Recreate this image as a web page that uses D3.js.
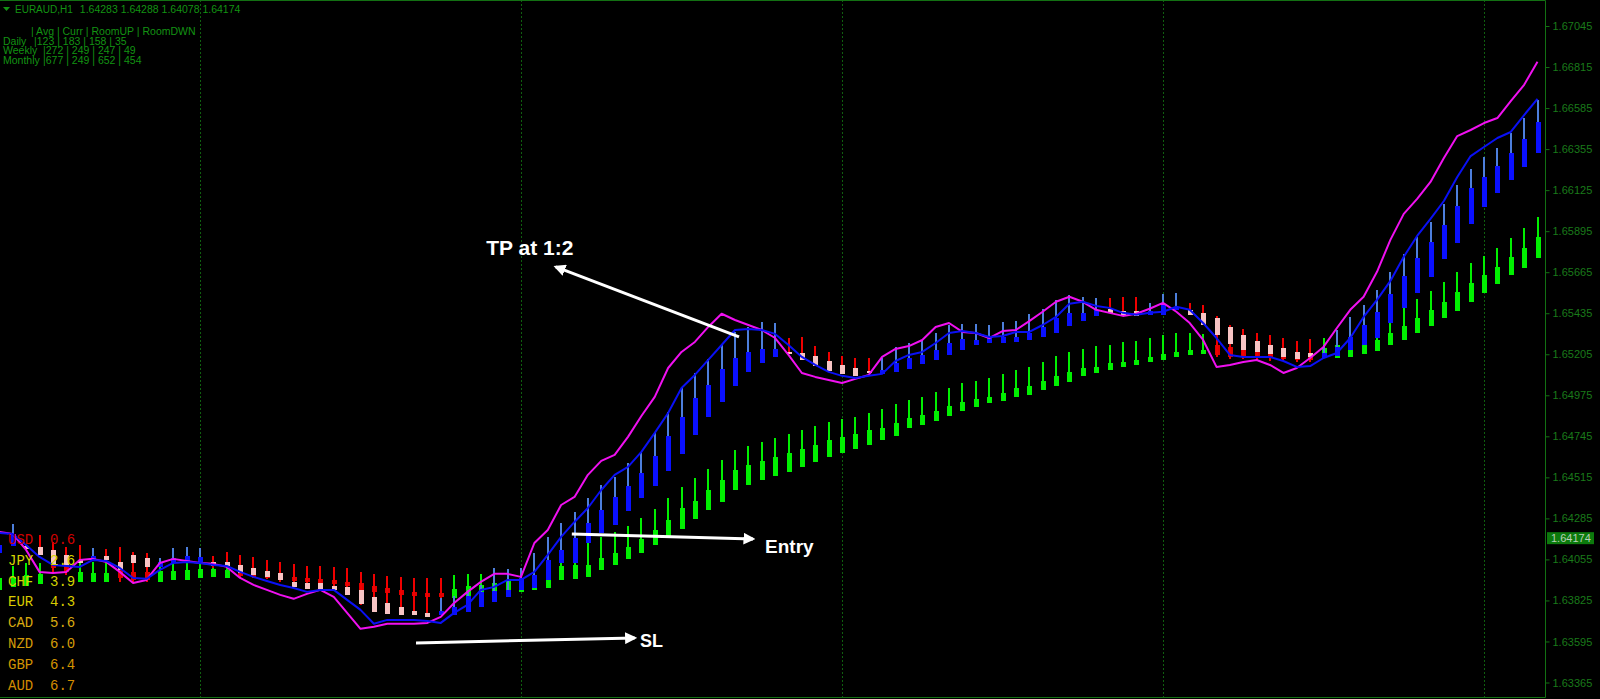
<!DOCTYPE html>
<html><head><meta charset="utf-8">
<script src="https://cdn.jsdelivr.net/npm/d3@7/dist/d3.min.js"></script>
<style>
html,body{margin:0;padding:0;background:#000;overflow:hidden;}
svg{display:block;}
text{white-space:pre;}
</style></head>
<body>
<svg id="chart" width="1600" height="699"></svg>
<script>
// ---------------- DATA ----------------
// H1 bars, index -1 .. 114 (bar -1 partially off-screen)
const bars = d3.range(-1, 115);
const dayStartBars = [14, 38, 62, 86, 110];

const lineMagenta = [
1.64209,1.64198,1.64108,1.63985,1.63979,1.63985,1.64052,1.64058,1.64041,1.63985,
1.63923,1.63940,1.64035,1.64058,1.64046,1.64035,1.64030,1.64013,1.63951,1.63912,
1.63884,1.63856,1.63834,1.63862,1.63884,1.63845,1.63755,1.63666,1.63677,1.63694,
1.63694,1.63694,1.63699,1.63733,1.63811,1.63873,1.63929,1.63974,1.63974,1.63957,
1.64147,1.64220,1.64360,1.64405,1.64529,1.64607,1.64641,1.64742,1.64859,1.64966,
1.65128,1.65218,1.65274,1.65358,1.65432,1.65397,1.65369,1.65341,1.65296,1.65201,
1.65100,1.65078,1.65061,1.65044,1.65067,1.65089,1.65190,1.65235,1.65251,1.65285,
1.65358,1.65380,1.65330,1.65324,1.65296,1.65335,1.65341,1.65391,1.65443,1.65499,
1.65527,1.65499,1.65454,1.65437,1.65420,1.65432,1.65460,1.65493,1.65443,1.65380,
1.65285,1.65134,1.65145,1.65162,1.65173,1.65145,1.65100,1.65128,1.65184,1.65246,
1.65352,1.65454,1.65527,1.65667,1.65846,1.65992,1.66076,1.66171,1.66305,1.66428,
1.66462,1.66501,1.66529,1.66624,1.66715,1.66844];

const lineBlue = [
1.64203,1.64198,1.64136,1.64069,1.64024,1.64018,1.64013,1.64052,1.64046,1.64007,
1.63951,1.63946,1.63996,1.64035,1.64041,1.64035,1.64024,1.64018,1.63985,1.63957,
1.63934,1.63912,1.63895,1.63873,1.63884,1.63884,1.63828,1.63772,1.63694,1.63716,
1.63716,1.63716,1.63710,1.63699,1.63755,1.63800,1.63884,1.63901,1.63940,1.63940,
1.63985,1.64080,1.64181,1.64265,1.64343,1.64444,1.64529,1.64574,1.64658,1.64764,
1.64876,1.65016,1.65089,1.65173,1.65257,1.65341,1.65347,1.65341,1.65319,1.65257,
1.65190,1.65145,1.65106,1.65084,1.65072,1.65084,1.65095,1.65167,1.65201,1.65218,
1.65268,1.65324,1.65335,1.65324,1.65302,1.65307,1.65330,1.65330,1.65369,1.65414,
1.65488,1.65499,1.65476,1.65465,1.65437,1.65426,1.65437,1.65443,1.65471,1.65454,
1.65380,1.65296,1.65201,1.65190,1.65190,1.65190,1.65167,1.65134,1.65139,1.65184,
1.65212,1.65296,1.65414,1.65510,1.65616,1.65751,1.65868,1.65964,1.66064,1.66199,
1.66316,1.66367,1.66417,1.66451,1.66546,1.66637];

// Heiken-Ashi candles (blue up / pink down)
const haHigh = [
1.64147,1.64254,1.64136,1.64192,1.64153,1.64125,1.64136,1.64119,1.64114,1.64125,
1.64097,1.64091,1.64063,1.64119,1.64125,1.64119,1.64074,1.64097,1.64080,1.64069,
1.64052,1.64041,1.64030,1.64018,1.64018,1.64013,1.64007,1.63985,1.63974,1.63962,
1.63957,1.63951,1.63951,1.63839,1.63850,1.63884,1.63912,1.64007,1.64002,1.64007,
1.64091,1.64181,1.64259,1.64321,1.64399,1.64472,1.64518,1.64596,1.64658,1.64764,
1.64882,1.65016,1.65100,1.65179,1.65257,1.65330,1.65358,1.65386,1.65380,1.65296,
1.65302,1.65251,1.65218,1.65195,1.65184,1.65184,1.65184,1.65246,1.65268,1.65285,
1.65324,1.65369,1.65375,1.65375,1.65369,1.65386,1.65392,1.65432,1.65460,1.65510,
1.65538,1.65527,1.65521,1.65521,1.65527,1.65527,1.65493,1.65544,1.65549,1.65493,
1.65482,1.65420,1.65369,1.65347,1.65324,1.65313,1.65296,1.65279,1.65291,1.65257,
1.65341,1.65415,1.65482,1.65566,1.65667,1.65768,1.65863,1.65947,1.66048,1.66154,
1.66244,1.66311,1.66361,1.66445,1.66529,1.66630];
const haOpen = [
1.64091,1.64130,1.64130,1.64125,1.64108,1.64080,1.64052,1.64052,1.64074,1.64041,
1.64080,1.64063,1.64013,1.64035,1.64041,1.64041,1.64041,1.64041,1.64024,1.64007,
1.63990,1.63979,1.63929,1.63923,1.63923,1.63906,1.63901,1.63884,1.63845,1.63811,
1.63789,1.63766,1.63755,1.63744,1.63744,1.63761,1.63789,1.63817,1.63845,1.63884,
1.63895,1.63940,1.64035,1.64035,1.64147,1.64203,1.64248,1.64327,1.64399,1.64467,
1.64551,1.64647,1.64753,1.64854,1.64938,1.65027,1.65106,1.65156,1.65190,1.65218,
1.65212,1.65195,1.65167,1.65145,1.65128,1.65111,1.65095,1.65106,1.65123,1.65151,
1.65173,1.65201,1.65229,1.65257,1.65268,1.65268,1.65274,1.65285,1.65302,1.65324,
1.65364,1.65392,1.65420,1.65460,1.65448,1.65448,1.65426,1.65426,1.65454,1.65454,
1.65437,1.65409,1.65358,1.65313,1.65279,1.65257,1.65240,1.65218,1.65212,1.65184,
1.65195,1.65229,1.65257,1.65296,1.65380,1.65465,1.65549,1.65639,1.65740,1.65829,
1.65936,1.66031,1.66109,1.66182,1.66255,1.66333];
const haClose = [
1.64136,1.64198,1.64114,1.64080,1.64024,1.64024,1.64035,1.64074,1.64052,1.63996,
1.64035,1.64013,1.64041,1.64063,1.64074,1.64069,1.64018,1.64018,1.63979,1.63968,
1.63957,1.63940,1.63901,1.63890,1.63890,1.63884,1.63856,1.63806,1.63761,1.63750,
1.63744,1.63744,1.63733,1.63766,1.63789,1.63850,1.63873,1.63879,1.63884,1.63951,
1.63968,1.64052,1.64108,1.64175,1.64259,1.64332,1.64405,1.64467,1.64540,1.64635,
1.64748,1.64854,1.64960,1.65033,1.65123,1.65184,1.65218,1.65235,1.65235,1.65207,
1.65173,1.65139,1.65111,1.65095,1.65084,1.65100,1.65117,1.65156,1.65184,1.65201,
1.65229,1.65268,1.65291,1.65285,1.65302,1.65302,1.65302,1.65324,1.65358,1.65409,
1.65437,1.65437,1.65454,1.65437,1.65426,1.65420,1.65448,1.65482,1.65471,1.65426,
1.65369,1.65313,1.65263,1.65229,1.65218,1.65207,1.65190,1.65179,1.65190,1.65212,
1.65246,1.65302,1.65369,1.65443,1.65544,1.65644,1.65745,1.65835,1.65930,1.66036,
1.66137,1.66199,1.66260,1.66333,1.66412,1.66507];
const haLow = [
1.64091,1.64130,1.64114,1.64080,1.64024,1.64024,1.64035,1.64052,1.64052,1.63996,
1.64035,1.64013,1.64013,1.64035,1.64041,1.64041,1.64007,1.64007,1.63957,1.63957,
1.63951,1.63929,1.63901,1.63890,1.63890,1.63884,1.63856,1.63800,1.63761,1.63750,
1.63744,1.63744,1.63733,1.63744,1.63744,1.63761,1.63789,1.63817,1.63845,1.63884,
1.63895,1.63940,1.64035,1.64035,1.64147,1.64203,1.64248,1.64327,1.64399,1.64467,
1.64551,1.64647,1.64753,1.64854,1.64938,1.65027,1.65106,1.65156,1.65190,1.65207,
1.65173,1.65139,1.65111,1.65095,1.65084,1.65100,1.65095,1.65106,1.65123,1.65151,
1.65173,1.65201,1.65229,1.65257,1.65268,1.65268,1.65274,1.65285,1.65302,1.65324,
1.65364,1.65392,1.65420,1.65437,1.65426,1.65420,1.65426,1.65426,1.65454,1.65426,
1.65369,1.65201,1.65190,1.65190,1.65190,1.65190,1.65179,1.65167,1.65173,1.65184,
1.65195,1.65229,1.65257,1.65296,1.65380,1.65465,1.65549,1.65639,1.65740,1.65829,
1.65936,1.66031,1.66109,1.66182,1.66255,1.66333];

// Smoothed signal candles (green up / red down)
const sigHigh = [
1.64013,1.64018,1.64035,1.64035,1.64119,1.64108,1.64052,1.64041,1.64035,1.64119,
1.64091,1.64091,1.64052,1.64052,1.64052,1.64063,1.64058,1.64058,1.64080,1.64069,
1.64052,1.64041,1.64030,1.64018,1.64018,1.64013,1.64007,1.63985,1.63974,1.63962,
1.63957,1.63951,1.63951,1.63951,1.63968,1.63974,1.63974,1.63979,1.64002,1.63985,
1.64024,1.64052,1.64119,1.64136,1.64147,1.64181,1.64209,1.64242,1.64287,1.64338,
1.64399,1.64461,1.64512,1.64563,1.64613,1.64669,1.64691,1.64714,1.64736,1.64759,
1.64781,1.64803,1.64826,1.64843,1.64854,1.64876,1.64899,1.64927,1.64949,1.64966,
1.64994,1.65016,1.65044,1.65055,1.65072,1.65095,1.65117,1.65134,1.65162,1.65195,
1.65218,1.65235,1.65251,1.65257,1.65274,1.65279,1.65296,1.65313,1.65324,1.65324,
1.65319,1.65313,1.65302,1.65296,1.65285,1.65285,1.65274,1.65268,1.65268,1.65296,
1.65313,1.65341,1.65369,1.65392,1.65437,1.65476,1.65516,1.65560,1.65611,1.65667,
1.65717,1.65756,1.65801,1.65857,1.65913,1.65975];
const sigOpen = [
1.63884,1.63901,1.63906,1.63918,1.64041,1.64024,1.63929,1.63929,1.63929,1.63996,
1.63985,1.63985,1.63929,1.63940,1.63940,1.63951,1.63957,1.63951,1.63985,1.63974,
1.63968,1.63962,1.63957,1.63951,1.63946,1.63940,1.63929,1.63923,1.63906,1.63895,
1.63884,1.63873,1.63867,1.63867,1.63839,1.63850,1.63862,1.63873,1.63884,1.63873,
1.63884,1.63895,1.63940,1.63946,1.63957,1.63996,1.64024,1.64058,1.64091,1.64136,
1.64186,1.64225,1.64281,1.64332,1.64377,1.64444,1.64472,1.64500,1.64523,1.64546,
1.64574,1.64602,1.64630,1.64652,1.64675,1.64697,1.64725,1.64748,1.64792,1.64809,
1.64831,1.64859,1.64887,1.64910,1.64932,1.64943,1.64966,1.64977,1.65005,1.65027,
1.65050,1.65084,1.65100,1.65117,1.65134,1.65145,1.65162,1.65173,1.65190,1.65201,
1.65207,1.65257,1.65246,1.65240,1.65229,1.65229,1.65218,1.65218,1.65212,1.65184,
1.65184,1.65190,1.65207,1.65223,1.65257,1.65285,1.65324,1.65364,1.65409,1.65448,
1.65499,1.65549,1.65600,1.65650,1.65689,1.65745];
const sigClose = [
1.63951,1.63957,1.63968,1.63974,1.64007,1.63985,1.63985,1.63979,1.63979,1.63951,
1.63940,1.63940,1.63990,1.63990,1.63996,1.64002,1.64002,1.63996,1.63962,1.63957,
1.63951,1.63940,1.63934,1.63929,1.63923,1.63918,1.63906,1.63884,1.63873,1.63867,
1.63856,1.63850,1.63845,1.63845,1.63890,1.63906,1.63912,1.63923,1.63940,1.63929,
1.63951,1.63968,1.64018,1.64024,1.64024,1.64063,1.64091,1.64125,1.64170,1.64220,
1.64276,1.64343,1.64382,1.64444,1.64500,1.64557,1.64585,1.64607,1.64630,1.64652,
1.64675,1.64697,1.64725,1.64742,1.64759,1.64781,1.64792,1.64820,1.64848,1.64865,
1.64887,1.64915,1.64938,1.64955,1.64966,1.64988,1.65016,1.65027,1.65055,1.65084,
1.65106,1.65128,1.65134,1.65156,1.65162,1.65173,1.65190,1.65207,1.65218,1.65229,
1.65229,1.65201,1.65190,1.65190,1.65184,1.65184,1.65179,1.65173,1.65173,1.65240,
1.65257,1.65257,1.65279,1.65285,1.65324,1.65364,1.65409,1.65454,1.65499,1.65555,
1.65605,1.65650,1.65695,1.65751,1.65801,1.65863];
const sigLow = [
1.63884,1.63901,1.63906,1.63918,1.63985,1.63968,1.63929,1.63929,1.63929,1.63929,
1.63929,1.63929,1.63929,1.63940,1.63940,1.63951,1.63957,1.63951,1.63957,1.63951,
1.63946,1.63929,1.63923,1.63918,1.63912,1.63906,1.63895,1.63873,1.63862,1.63850,
1.63845,1.63839,1.63834,1.63828,1.63839,1.63850,1.63862,1.63873,1.63884,1.63873,
1.63884,1.63895,1.63940,1.63946,1.63957,1.63996,1.64024,1.64058,1.64091,1.64136,
1.64186,1.64225,1.64281,1.64332,1.64377,1.64444,1.64472,1.64500,1.64523,1.64546,
1.64574,1.64602,1.64630,1.64652,1.64675,1.64697,1.64725,1.64748,1.64792,1.64809,
1.64831,1.64859,1.64887,1.64910,1.64932,1.64943,1.64966,1.64977,1.65005,1.65027,
1.65050,1.65084,1.65100,1.65117,1.65134,1.65145,1.65162,1.65173,1.65190,1.65201,
1.65207,1.65190,1.65179,1.65179,1.65173,1.65167,1.65167,1.65162,1.65162,1.65184,
1.65184,1.65190,1.65207,1.65223,1.65257,1.65285,1.65324,1.65364,1.65409,1.65448,
1.65499,1.65549,1.65600,1.65650,1.65689,1.65745];

const priceTicks = [1.67045,1.66815,1.66585,1.66355,1.66125,1.65895,1.65665,1.65435,
  1.65205,1.64975,1.64745,1.64515,1.64285,1.64055,1.63825,1.63595,1.63365];
const lastPrice = 1.64174;
const symbolTitle = "EURAUD,H1";
const ohlc = ["1.64283","1.64288","1.64078","1.64174"];

const rangeHeader = "| Avg | Curr | RoomUP | RoomDWN";
const rangeNames = ["Daily", "Weekly", "Monthly"];
const rangeAvg = [123, 272, 677];
const rangeCurr = [183, 249, 249];
const rangeUp = [158, 247, 652];
const rangeDown = [35, 49, 454];

const currencies = ["USD","JPY","CHF","EUR","CAD","NZD","GBP","AUD"];
const strength = [0.6, 2.6, 3.9, 4.3, 5.6, 6.0, 6.4, 6.7];

// annotations: [bar, price] anchors
const annLabels = ["TP at 1:2", "Entry", "SL"];
const annFrom = [[54.3, 1.65302], [41.8, 1.64198], [30.15, 1.63587]];
const annTo   = [[40.6, 1.65695], [55.35, 1.64170], [46.5, 1.63615]];
const annText = [[35.4, 1.65801], [56.25, 1.64130], [46.9, 1.63598]];

// ---------------- DRAW ----------------
const svg = d3.select("#chart");
const AXIS_X = 1545.5;
const x = d3.scaleLinear().domain([-1, 114]).range([-0.625, 1537.5]);
const y = d3.scaleLinear().domain([1.63365, 1.67045]).range([682.5, 26]);

svg.append("rect").attr("width", 1600).attr("height", 699).attr("fill", "#000");

// day separators
svg.append("g").selectAll("line").data(dayStartBars).join("line")
  .attr("x1", d => Math.round(x(d)) + 0.5).attr("x2", d => Math.round(x(d)) + 0.5)
  .attr("y1", 0).attr("y2", 697)
  .attr("stroke", "#0f5f0f").attr("stroke-width", 1).attr("stroke-dasharray", "2,2");

function drawCandles(hi, op, cl, lo, c) {
  const g = svg.append("g").attr("shape-rendering", "crispEdges");
  const idx = d3.range(bars.length);
  g.selectAll("rect.w").data(idx).join("rect").attr("class", "w")
    .attr("x", k => Math.round(x(bars[k])) - 1).attr("width", 2)
    .attr("y", k => y(hi[k]))
    .attr("height", k => Math.max(1, y(lo[k]) - y(hi[k])))
    .attr("fill", k => cl[k] >= op[k] ? c.upWick : c.dnWick);
  g.selectAll("rect.b").data(idx).join("rect").attr("class", "b")
    .attr("x", k => Math.round(x(bars[k])) - 2).attr("width", 5)
    .attr("y", k => y(Math.max(op[k], cl[k])))
    .attr("height", k => Math.max(2, Math.abs(y(op[k]) - y(cl[k]))))
    .attr("fill", k => cl[k] >= op[k] ? c.upBody : c.dnBody);
}
drawCandles(sigHigh, sigOpen, sigClose, sigLow,
  {upWick: "#00f000", upBody: "#00f000", dnWick: "#f00000", dnBody: "#e00000"});
drawCandles(haHigh, haOpen, haClose, haLow,
  {upWick: "#4d7fdc", upBody: "#0a10ff", dnWick: "#f00000", dnBody: "#f7c4c4"});

const line = vals => d3.line().x((d, k) => x(bars[k])).y(d => y(d))(vals);
svg.append("path").attr("d", line(lineMagenta)).attr("fill", "none")
  .attr("stroke", "#f010f0").attr("stroke-width", 2).attr("stroke-linejoin", "round");
svg.append("path").attr("d", line(lineBlue)).attr("fill", "none")
  .attr("stroke", "#0a10f5").attr("stroke-width", 2).attr("stroke-linejoin", "round");

// frame
svg.append("path").attr("d", `M0,0.5H${AXIS_X}V697.5H0`).attr("fill", "none")
  .attr("stroke", "#137013").attr("stroke-width", 1);

// right price axis
const axis = d3.axisRight(y).tickValues(priceTicks).tickSize(4).tickPadding(3)
  .tickFormat(d3.format(".5f"));
const ga = svg.append("g").attr("transform", `translate(${AXIS_X},0)`).call(axis);
ga.select(".domain").remove();
ga.selectAll(".tick line").attr("stroke", "#137013");
ga.selectAll(".tick text").attr("fill", "#1a7a1a")
  .attr("font-family", "Liberation Sans, Arial, sans-serif").attr("font-size", 11);

// last price marker
const yl = y(lastPrice);
svg.append("rect").attr("x", 1547).attr("y", yl - 6).attr("width", 47).attr("height", 12)
  .attr("fill", "#0c7a0c");
svg.append("text").attr("x", 1551).attr("y", yl).attr("dy", "0.36em")
  .attr("fill", "#b8d0b8").attr("font-family", "Liberation Sans, Arial, sans-serif")
  .attr("font-size", 11).text(d3.format(".5f")(lastPrice));

// header
const hdrFont = "Liberation Sans, Arial, sans-serif";
const hdrCol = "#139313";
svg.append("path").attr("d", "M3,7L10,7L6.5,11Z").attr("fill", hdrCol);
const titleText = svg.append("text").attr("x", 15).attr("y", 13).attr("fill", hdrCol)
  .attr("font-family", hdrFont).attr("font-size", 10).text(symbolTitle);
const tw = titleText.node().getComputedTextLength();
svg.append("text").attr("x", 15 + tw + 7).attr("y", 13).attr("fill", hdrCol)
  .attr("font-family", hdrFont).attr("font-size", 10.5).text(ohlc.join(" "));

svg.append("text").attr("x", 31).attr("y", 35).attr("fill", hdrCol)
  .attr("font-family", hdrFont).attr("font-size", 10.5).text(rangeHeader);
const rowX = [34, 43, 43];
rangeNames.forEach((n, r) => {
  const yy = 44.5 + r * 9.8;
  svg.append("text").attr("x", 3).attr("y", yy).attr("fill", hdrCol)
    .attr("font-family", hdrFont).attr("font-size", 10.5).text(n);
  svg.append("text").attr("x", rowX[r]).attr("y", yy).attr("fill", hdrCol)
    .attr("font-family", hdrFont).attr("font-size", 10.5)
    .text(`|${rangeAvg[r]} | ${rangeCurr[r]} | ${rangeUp[r]} | ${rangeDown[r]}`);
});

// currency strength list
const curColors = ["#d00000", "#d6d600", "#d2d200", "#d8cc00", "#d8aa10", "#d49c08", "#d49400", "#d48c00"];
svg.append("g").selectAll("text").data(currencies).join("text")
  .attr("x", 8).attr("y", (d, k) => 544 + k * 20.8)
  .attr("fill", (d, k) => curColors[k])
  .attr("font-family", "Liberation Mono, Courier New, monospace").attr("font-size", 14)
  .text((d, k) => `${d}  ${strength[k].toFixed(1)}`);

// annotations
const annSize = [21, 19, 18];
const defs = svg.append("defs");
defs.append("marker").attr("id", "ah").attr("viewBox", "0 0 10 10")
  .attr("refX", 8).attr("refY", 5).attr("markerWidth", 4).attr("markerHeight", 4)
  .attr("orient", "auto").attr("markerUnits", "strokeWidth")
  .append("path").attr("d", "M0,0L10,5L0,10Z").attr("fill", "#fff");
annLabels.forEach((t, k) => {
  svg.append("line")
    .attr("x1", x(annFrom[k][0])).attr("y1", y(annFrom[k][1]))
    .attr("x2", x(annTo[k][0])).attr("y2", y(annTo[k][1]))
    .attr("stroke", "#fff").attr("stroke-width", 3).attr("marker-end", "url(#ah)");
  svg.append("text").attr("x", x(annText[k][0])).attr("y", y(annText[k][1]))
    .attr("dy", "0.36em").attr("fill", "#fff")
    .attr("font-family", "Liberation Sans, Arial, sans-serif").attr("font-weight", "bold")
    .attr("font-size", annSize[k]).text(t);
});
</script>
</body></html>
